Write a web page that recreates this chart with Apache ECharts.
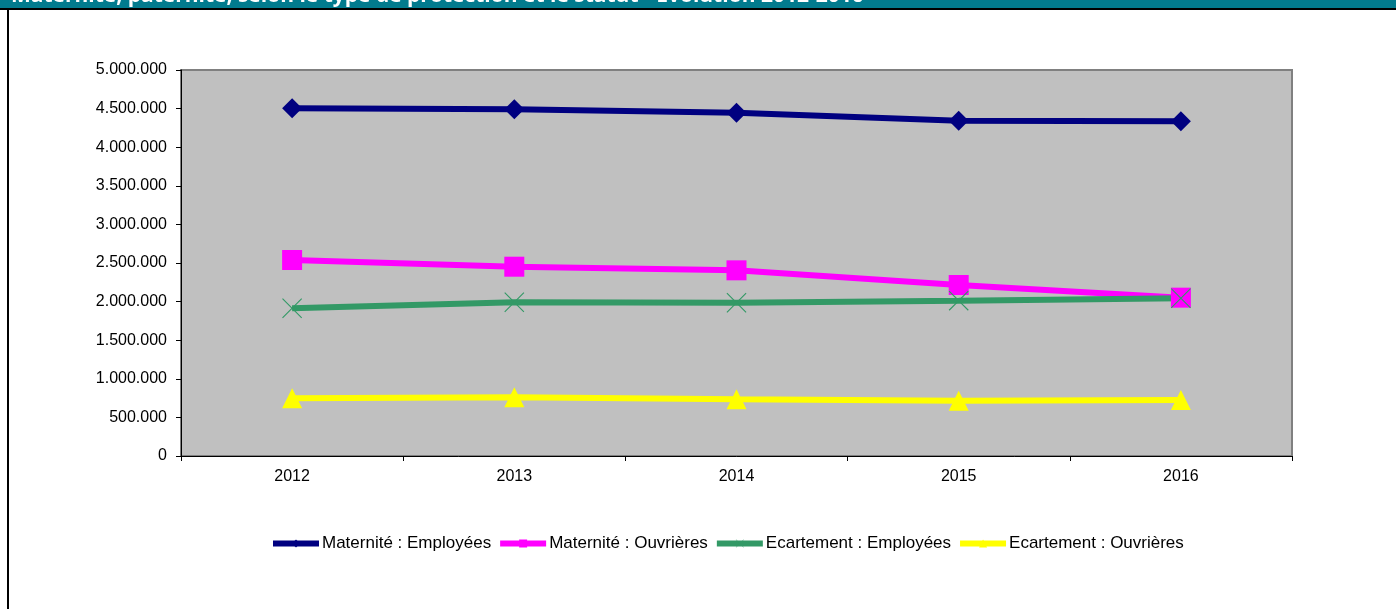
<!DOCTYPE html>
<html>
<head>
<meta charset="utf-8">
<script src="https://cdn.jsdelivr.net/npm/echarts@6/dist/echarts.min.js"></script>
<style>
  html, body { margin: 0; padding: 0; background: #fff; }
  #chart { width: 1396px; height: 609px; }
</style>
</head>
<body>
<div id="chart"></div>
<script>
// données
const years = ['2012', '2013', '2014', '2015', '2016'];
const materniteEmployees = [4504000, 4491000, 4447000, 4343000, 4335000];
const materniteOuvrieres = [2539000, 2452000, 2405000, 2215000, 2051000];
const ecartementEmployees = [1913000, 1991000, 1986000, 2012000, 2043000];
const ecartementOuvrieres = [747000, 760000, 734000, 716000, 725000];
const seriesNames = ['Maternité : Employées', 'Maternité : Ouvrières', 'Ecartement : Employées', 'Ecartement : Ouvrières'];
const titleText = 'Maternité, paternité, selon le type de protection et le statut - Evolution 2012-2016';

const font = 'Arial, "Liberation Sans", sans-serif';
const crossPath = 'path://M0,0.8L0.8,0L10,9.2L19.2,0L20,0.8L10.8,10L20,19.2L19.2,20L10,10.8L0.8,20L0,19.2L9.2,10Z';

function fmt(v) {
  return String(v).replace(/\B(?=(\d{3})+(?!\d))/g, '.');
}

function makeSeries(name, data, color, symbol, size) {
  return {
    name: name,
    type: 'line',
    data: data,
    symbol: symbol,
    symbolSize: size,
    lineStyle: { color: color, width: 6 },
    itemStyle: { color: color },
    emphasis: { disabled: true },
    animation: false
  };
}

const myChart = echarts.init(document.getElementById('chart'));
myChart.setOption({
  animation: false,
  textStyle: { fontFamily: font },
  graphic: [
    { type: 'rect', shape: { x: 0, y: 0, width: 1396, height: 9 }, style: { fill: '#027B8E' } },
    { type: 'text', left: 11, top: -14,
      style: { text: titleText, fill: '#fff', font: 'bold 21px "Open Sans", sans-serif' } },
    { type: 'rect', shape: { x: 0, y: 8, width: 1396, height: 2 }, style: { fill: '#000' } },
    { type: 'rect', shape: { x: 7, y: 8, width: 2, height: 601 }, style: { fill: '#000' } }
  ],
  grid: {
    left: 181, right: 104, top: 70, bottom: 153,
    show: true, backgroundColor: '#C0C0C0', borderColor: '#808080', borderWidth: 2
  },
  legend: {
    bottom: 52,
    left: 265,
    itemWidth: 46,
    itemHeight: 10,
    itemGap: 6,
    lineStyle: { width: 6 },
    textStyle: { fontSize: 17, color: '#000', fontFamily: font, padding: [0, 0, 0, -2] },
    data: seriesNames
  },
  xAxis: {
    type: 'category',
    data: years,
    boundaryGap: true,
    axisLine: { lineStyle: { color: '#000', width: 1 } },
    axisTick: { show: true, length: 5, lineStyle: { color: '#000' } },
    axisLabel: { color: '#000', fontSize: 16, margin: 13 },
    splitLine: { show: false }
  },
  yAxis: {
    type: 'value',
    min: 0, max: 5000000, interval: 500000,
    axisLine: { show: true, lineStyle: { color: '#000', width: 1 } },
    axisTick: { show: true, length: 5, lineStyle: { color: '#000' } },
    axisLabel: { color: '#000', fontSize: 16, margin: 14, formatter: fmt },
    splitLine: { show: false }
  },
  series: [
    makeSeries(seriesNames[0], materniteEmployees, '#000080', 'diamond', 20),
    makeSeries(seriesNames[1], materniteOuvrieres, '#FF00FF', 'rect', 20),
    makeSeries(seriesNames[2], ecartementEmployees, '#339966', crossPath, 20),
    makeSeries(seriesNames[3], ecartementOuvrieres, '#FFFF00', 'triangle', 20)
  ]
});
</script>
</body>
</html>
